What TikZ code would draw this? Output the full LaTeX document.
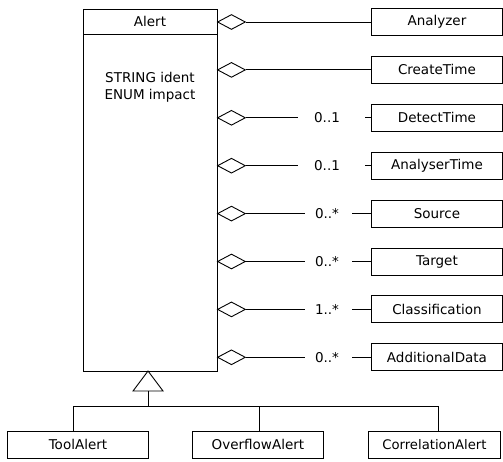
\documentclass[tikz,border=0pt]{standalone}
\usepackage{fontspec}
\setmainfont{DejaVu Sans}
\usetikzlibrary{shapes.geometric}
\begin{document}
\begin{tikzpicture}[x=1pt, y=-1pt, line width=0.9pt,
  txt/.style={font=\fontsize{13.5}{17}\selectfont},
  cls/.style={draw, txt, inner sep=0pt, minimum width=131pt, minimum height=27pt},
  agg/.style={draw, fill=white, diamond, inner sep=0pt, minimum width=28pt, minimum height=15pt, anchor=west},
  mult/.style={txt, inner sep=0pt}
]
\useasboundingbox (0,0) rectangle (503,462);

% Alert class with its header compartment
\node (alert) [draw, anchor=north west, minimum width=134pt, minimum height=362pt, inner sep=0pt] at (83,9) {};
\draw (83,34) -- (217,34);
\node (alertname) [txt] at (150,21.5) {Alert};
\node (alertattr) [txt, align=center] at (150,87) {STRING ident\\ENUM impact};

% Aggregated classes on the right
\foreach \n/\t [count=\i from 0] in {a0/Analyzer, a1/CreateTime, a2/DetectTime, a3/AnalyserTime,
    a4/Source, a5/Target, a6/Classification, a7/AdditionalData}{
  \node (\n) [cls, anchor=west] at (371, 22+47.9*\i) {\t};
  \node (d\i) [agg] at (217, 22+47.9*\i) {};
}

% Direct links without multiplicity
\draw (d0.east) -- (a0.west);
\draw (d1.east) -- (a1.west);

% Links with multiplicities
\foreach \i/\m/\gl/\gr in {2/0..1/16/25, 3/0..1/16/25, 4/0..*/10/13, 5/0..*/10/13, 6/1..*/10/13, 7/0..*/10/13}{
  \node (m\i) [mult] at (327, 22+47.9*\i) {\m};
  \draw (d\i.east) -- ([xshift=-\gl pt]m\i.west);
  \draw ([xshift=\gr pt]m\i.east) -- (a\i.west);
}

% Specialisations of Alert
\node (tool) [cls, minimum width=141pt, anchor=north west] at (7,431) {ToolAlert};
\node (over) [cls, anchor=north west] at (192,431) {OverflowAlert};
\node (corr) [cls, minimum width=132pt, anchor=north west, font=\fontsize{13.2}{16}\selectfont] at (368,431) {CorrelationAlert};

\coordinate (apex) at (148,371);
\coordinate (base) at (148,391);
\coordinate (bus) at (148,406);
\coordinate (bt) at (73,406);
\coordinate (bo) at (259,406);
\coordinate (bc) at (438,406);
\draw (apex) -- (133,391) -- (163,391) -- cycle;
\draw (base) -- (bus);
\draw (bt) -- (bc);
\draw (bt) -- (bt |- tool.north);
\draw (bo) -- (bo |- over.north);
\draw (bc) -- (bc |- corr.north);
\end{tikzpicture}
\end{document}
